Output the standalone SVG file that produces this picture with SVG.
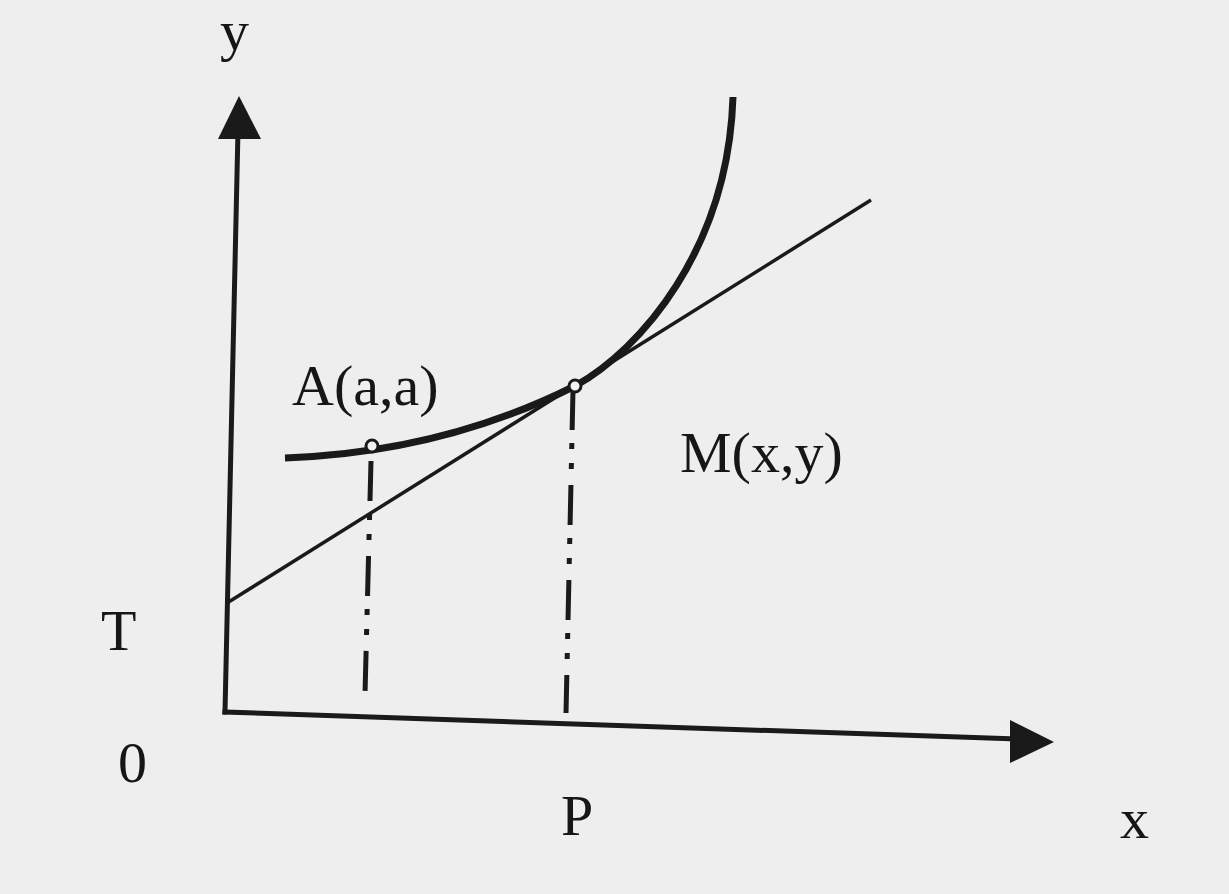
<svg xmlns="http://www.w3.org/2000/svg" width="1229" height="894" viewBox="0 0 1229 894">
<style>
.lbl{font-family:"Liberation Serif","Times New Roman",serif;font-size:58px;fill:#161616}
.ax{stroke:#1a1a1a;stroke-width:5;fill:none;stroke-linecap:square}
.dd{stroke:#1a1a1a;stroke-width:5;fill:none;stroke-dasharray:40 13 6 14 6 16}
.pt{fill:#f2f2f2;stroke:#1a1a1a;stroke-width:3}
</style>
<rect x="0" y="0" width="1229" height="894" fill="#eeeeee"/>
<g id="axes">
<path class="ax" d="M225,712 L238,130"/>
<polygon points="239,96 218,139 261,139" fill="#1a1a1a"/>
<path class="ax" d="M225,712 L1015,739"/>
<polygon points="1054,742 1010,720 1010,763" fill="#1a1a1a"/>
</g>
<g id="guides">
<path class="dd" d="M371,461 L365,694"/>
<path class="dd" d="M573,390 L566,713"/>
</g>
<g id="tangent">
<path d="M227,603 L871,200" stroke="#1a1a1a" stroke-width="3.5" fill="none"/>
</g>
<g id="curve">
<path d="M285,458 C345,456 455,446 575,386 C640,350 728,250 733,97" stroke="#1a1a1a" stroke-width="7" fill="none" stroke-linecap="butt"/>
</g>
<g id="points">
<circle class="pt" cx="372" cy="446" r="6"/>
<circle class="pt" cx="575" cy="386" r="6"/>
</g>
<g id="labels">
<text class="lbl" x="220" y="50">y</text>
<text class="lbl" x="292" y="405">A(a,a)</text>
<text class="lbl" x="680" y="472">M(x,y)</text>
<text class="lbl" x="101" y="650">T</text>
<text class="lbl" x="118" y="782">0</text>
<text class="lbl" x="561" y="835">P</text>
<text class="lbl" x="1120" y="838">x</text>
</g>
</svg>
